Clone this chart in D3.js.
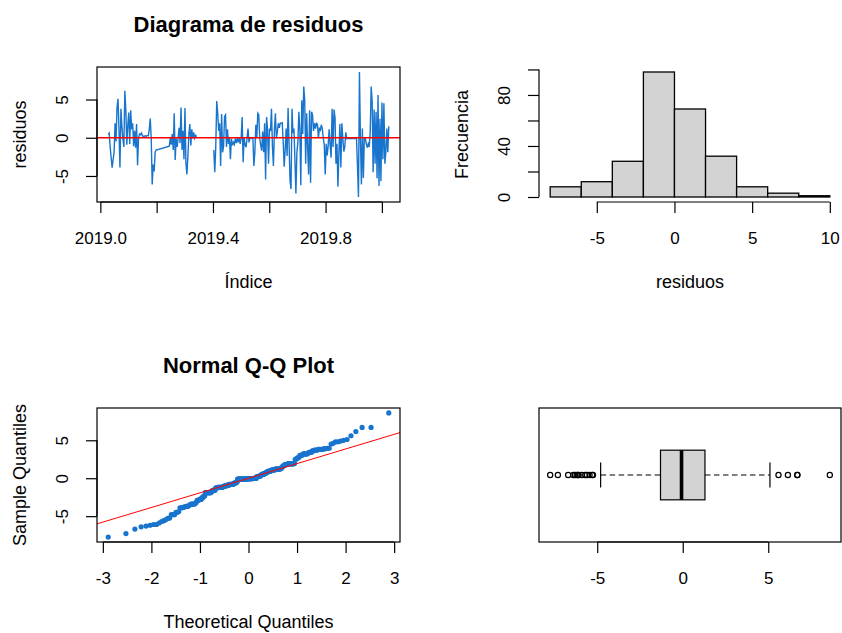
<!DOCTYPE html>
<html lang="es">
<head>
<meta charset="utf-8">
<script src="https://cdn.jsdelivr.net/npm/d3@7"></script>
<style>
  html, body { margin: 0; padding: 0; background: #ffffff; }
  svg { display: block; font-family: "Liberation Sans", Arial, sans-serif; }
</style>
</head>
<body>
<svg id="fig" width="842" height="633"></svg>
<script>
// ---- Residuos del modelo, por tramo (una observación cada 1/288 de año) ----
const tramoA = [
  0.4, 0.6, -1.25, -2.6, -3.9, -2.9, -1.9, 1.9, -0.5, 3.95,
  5.1, 1.2, -3.9, 3.8, 1.5, -0.12, -1.2, 6.15, 3.7, -0.9,
  1.6, 3.3, -0.8, 3.6, 1.1, 1.9, -1.1, 0.9, -1.3, 1.8,
  -3.6, -0.08, 0.5, 0.4, 0.6, 0.25, 0.2, 0.2, 0.25, 0.2,
  0.3, 0.25, 1.1, 2.5, -0.1, -6.1, -3.5, -4.4, -1.9, -1.6
];
const tramoB = [
  -1.1, -0.04, -0.9, 0.5, -1.6, 3.2, -2.9, -0.1, -1.2, -0.06,
  1.3, -0.7, 3.95, -1.6, 0.9, -2.8, 3.9, -3.3, -4.8, -2.4,
  0.5, 1.8, -1.0, 1.1, -0.09, 0.7, -0.05, 0.3, 0.15
];
const tramoC = [
  -1.6, -4.5, -1.2, 4.8, 3.2, 0.9, 1.9, -3.7, 3.1, -1.9,
  -1.1, 2.8, 3.0, -1.2, 1.1, -0.8, -0.03, -2.8, -0.1, -1.0,
  -0.6, -0.9, -0.12, -0.7, -0.05, -0.6, -0.04, -0.8, -0.03, 2.7,
  -3.2, -0.02, -0.9, -1.25, -0.08, 1.2, -0.6, -0.03, -0.1, -0.02,
  -0.11, -3.7, -1.9, 1.7, -0.05, 3.2, 3.0, -0.1, -1.0, -1.7,
  0.8, -1.9, 1.9, -5.45, 2.7, 1.0, -3.4, 1.2, 0.9, 3.8,
  -1.2, -3.7, 1.0, 3.2, -0.09, 0.8, 1.9, 1.3, 1.9, 1.9,
  1.95, -0.5, -3.8, -1.6, 1.2, -2.4, 3.9, -0.8, -5.6, -6.7,
  3.8, 0.6, 1.2, -2.9, -7.3, -1.9, -0.6, 3.4, 1.1, -6.2,
  4.9, 0.5, 6.7, 5.0, -3.4, 3.2, -1.2, -4.8, 3.6, -5.9,
  3.4, 3.0, 0.9, 1.9, 1.2, 1.9, 1.8, -0.04, 1.2, 1.0,
  1.7, 1.2, -0.07, -0.9, -4.8, -0.8, -2.3, -1.0, 1.1, -1.0,
  -2.6, 3.8, -1.2, 3.7, 2.6, -3.4, -0.8, -6.4, -1.9, 1.8,
  -3.9, 1.9, -0.08, -1.8, -1.2, 0.7, -0.12, -0.1, -0.11, -0.1,
  -0.09, -0.1, -0.08, -0.09, -0.07, -0.1, -0.06, -3.8, -7.75, 8.6,
  -0.03, -6.1, 1.2, -5.25, -0.1, -0.04, -0.8, -1.3, -0.8, -1.2,
  0.7, 6.7, 4.8, -4.5, 3.7, -3.4, 3.4, -5.3, 5.6, -6.3,
  2.5, -5.7, 4.6, -2.8, 4.5, -3.4, -1.9, 1.2, -1.9, 1.5
];
const inicioTramos = [2019.028, 2019.245, 2019.403];
const tramoUnido = [false, true, false];   // el tramo B continúa la línea del A
const obsPorAnio = 288;

// ---- Ejes ----
const ticksTiempo = [2019.0, 2019.2, 2019.4, 2019.6, 2019.8, 2020.0];
const etiquetasTiempo = [2019.0, 2019.4, 2019.8];
const ticksResiduos = [-5, 0, 5];
const cortesHist = [-8, -6, -4, -2, 0, 2, 4, 6, 8, 10];
const ticksHistX = [-5, 0, 5, 10];
const ticksFrecuencia = [0, 20, 40, 60, 80, 100];
const etiquetasFrecuencia = [0, 40, 80];
const ticksTeoricos = [-3, -2, -1, 0, 1, 2, 3];

// ---- Estilo y geometría ----
const AZUL = "#1874CD", ROJO = "#FF0000", GRIS = "#D3D3D3", NEGRO = "#000000";
const F_TITULO = 22, F_ETIQ = 18, F_TICK = 17;
const LARGO_TICK = 11;
const TRAZO = 1.2;
const paneles = {
  serie: { x0: 97, x1: 400, y0: 67, y1: 202 },
  hist:  { x0: 539, x1: 841, y0: 67, y1: 202 },
  qq:    { x0: 97, x1: 400, y0: 408, y1: 542 },
  caja:  { x0: 539, x1: 841, y0: 408, y1: 542 }
};

const svg = d3.select("#fig");
const extender = ([a, b]) => { const r = b - a; return [a - 0.04 * r, b + 0.04 * r]; };
const fmtNum = d => (d < 0 ? "-" : "") + Math.abs(d);

// ---- Datos derivados ----
const tramos = [tramoA, tramoB, tramoC];
const serie = [];
tramos.forEach((vals, k) => vals.forEach((v, i) =>
  serie.push({ t: inicioTramos[k] + i / obsPorAnio, v, k })));
const residuos = serie.map(d => d.v);
const ordenados = residuos.slice().sort(d3.ascending);
const n = ordenados.length;

// cuantil normal inverso (Acklam)
function qnorm(p) {
  const a = [-3.969683028665376e+01, 2.209460984245205e+02, -2.759285104469687e+02,
             1.383577518672690e+02, -3.066479806614716e+01, 2.506628277459239e+00];
  const b = [-5.447609879822406e+01, 1.615858368580409e+02, -1.556989798598866e+02,
             6.680131188771972e+01, -1.328068155288572e+01];
  const c = [-7.784894002430293e-03, -3.223964580411365e-01, -2.400758277161838e+00,
             -2.549732539343734e+00, 4.374664141464968e+00, 2.938163982698783e+00];
  const d = [7.784695709041462e-03, 3.224671290700398e-01, 2.445134137142996e+00,
             3.754408661907416e+00];
  const pl = 0.02425, ph = 1 - pl;
  let q, r;
  if (p < pl) {
    q = Math.sqrt(-2 * Math.log(p));
    return (((((c[0]*q+c[1])*q+c[2])*q+c[3])*q+c[4])*q+c[5]) / ((((d[0]*q+d[1])*q+d[2])*q+d[3])*q+1);
  }
  if (p > ph) {
    q = Math.sqrt(-2 * Math.log(1 - p));
    return -(((((c[0]*q+c[1])*q+c[2])*q+c[3])*q+c[4])*q+c[5]) / ((((d[0]*q+d[1])*q+d[2])*q+d[3])*q+1);
  }
  q = p - 0.5; r = q * q;
  return (((((a[0]*r+a[1])*r+a[2])*r+a[3])*r+a[4])*r+a[5])*q / (((((b[0]*r+b[1])*r+b[2])*r+b[3])*r+b[4])*r+1);
}

// ---- Utilidades de dibujo ----
function marco(p) {
  svg.append("rect").attr("x", p.x0).attr("y", p.y0)
    .attr("width", p.x1 - p.x0).attr("height", p.y1 - p.y0)
    .attr("fill", "none").attr("stroke", NEGRO).attr("stroke-width", TRAZO);
}

function ejeInferior(escala, y, ticks, etiquetas) {
  const g = svg.append("g").attr("transform", `translate(0,${y})`);
  g.call(d3.axisBottom(escala).tickValues(ticks).tickSize(LARGO_TICK).tickSizeOuter(0)
    .tickPadding(0).tickFormat(d => etiquetas.includes(d) ? (Number.isInteger(d) && Math.abs(d) < 1000 ? fmtNum(d) : d.toFixed(1)) : ""));
  g.select(".domain").remove();
  g.append("line").attr("x1", escala(ticks[0])).attr("x2", escala(ticks[ticks.length - 1]))
    .attr("stroke", NEGRO).attr("stroke-width", TRAZO);
  g.selectAll(".tick line").attr("stroke", NEGRO).attr("stroke-width", TRAZO);
  g.selectAll(".tick text").attr("fill", NEGRO).attr("font-size", F_TICK)
    .attr("font-family", "Liberation Sans, Arial, sans-serif")
    .attr("y", 36).attr("dy", "0.35em");
  return g;
}

function ejeIzquierdo(escala, x, ticks, etiquetas) {
  const g = svg.append("g").attr("transform", `translate(${x},0)`);
  g.call(d3.axisLeft(escala).tickValues(ticks).tickSize(LARGO_TICK).tickSizeOuter(0)
    .tickPadding(0).tickFormat(d => etiquetas.includes(d) ? fmtNum(d) : ""));
  g.select(".domain").remove();
  g.append("line").attr("y1", escala(ticks[0])).attr("y2", escala(ticks[ticks.length - 1]))
    .attr("stroke", NEGRO).attr("stroke-width", TRAZO);
  g.selectAll(".tick line").attr("stroke", NEGRO).attr("stroke-width", TRAZO);
  g.selectAll(".tick text").attr("fill", NEGRO).attr("font-size", F_TICK)
    .attr("font-family", "Liberation Sans, Arial, sans-serif")
    .attr("x", 0).attr("dy", 0).attr("text-anchor", "middle")
    .attr("transform", "translate(-35,0) rotate(-90) translate(0,6)");
  return g;
}

function titulo(p, texto) {
  svg.append("text").attr("x", (p.x0 + p.x1) / 2).attr("y", p.y0 - 35)
    .attr("text-anchor", "middle").attr("font-weight", "bold")
    .attr("font-size", F_TITULO).attr("fill", NEGRO).text(texto);
}
function etiquetaX(p, texto) {
  svg.append("text").attr("x", (p.x0 + p.x1) / 2).attr("y", p.y1 + 86)
    .attr("text-anchor", "middle").attr("font-size", F_ETIQ).attr("fill", NEGRO).text(texto);
}
function etiquetaY(p, texto) {
  const cx = p.x0 - 77, cy = (p.y0 + p.y1) / 2;
  svg.append("text").attr("transform", `translate(${cx},${cy}) rotate(-90)`)
    .attr("text-anchor", "middle").attr("dy", "0.35em")
    .attr("font-size", F_ETIQ).attr("fill", NEGRO).text(texto);
}
function recorte(id, p) {
  svg.append("clipPath").attr("id", id).append("rect")
    .attr("x", p.x0).attr("y", p.y0).attr("width", p.x1 - p.x0).attr("height", p.y1 - p.y0);
  return `url(#${id})`;
}

// ===== 1. Diagrama de residuos =====
{
  const p = paneles.serie;
  const x = d3.scaleLinear().domain(extender(d3.extent(serie, d => d.t))).range([p.x0, p.x1]);
  const y = d3.scaleLinear().domain(extender(d3.extent(residuos))).range([p.y1, p.y0]);
  const trazos = [];
  tramos.forEach((_, k) => {
    const pts = serie.filter(d => d.k === k);
    if (tramoUnido[k] && trazos.length) trazos[trazos.length - 1].push(...pts);
    else trazos.push(pts);
  });
  const linea = d3.line().x(d => x(d.t)).y(d => y(d.v));
  const clip = recorte("clip-serie", p);
  svg.append("g").attr("clip-path", clip).selectAll("path").data(trazos).join("path")
    .attr("d", linea).attr("fill", "none").attr("stroke", AZUL).attr("stroke-width", 1.4)
    .attr("stroke-linejoin", "miter");
  svg.append("line").attr("clip-path", clip)
    .attr("x1", p.x0).attr("x2", p.x1).attr("y1", y(0)).attr("y2", y(0))
    .attr("stroke", ROJO).attr("stroke-width", 1.3);
  marco(p);
  ejeInferior(x, p.y1, ticksTiempo, etiquetasTiempo);
  ejeIzquierdo(y, p.x0, ticksResiduos, ticksResiduos);
  titulo(p, "Diagrama de residuos");
  etiquetaX(p, "Índice");
  etiquetaY(p, "residuos");
}

// ===== 2. Histograma =====
{
  const p = paneles.hist;
  const bins = d3.bin().domain([cortesHist[0], cortesHist[cortesHist.length - 1]])
    .thresholds(cortesHist.slice(1, -1))(residuos);
  const x = d3.scaleLinear().domain(extender(d3.extent(cortesHist))).range([p.x0, p.x1]);
  const y = d3.scaleLinear().domain(extender([0, d3.max(bins, b => b.length)])).range([p.y1, p.y0]);
  svg.append("g").selectAll("rect").data(bins).join("rect")
    .attr("x", b => x(b.x0)).attr("width", b => x(b.x1) - x(b.x0))
    .attr("y", b => y(b.length)).attr("height", b => y(0) - y(b.length))
    .attr("fill", GRIS).attr("stroke", NEGRO).attr("stroke-width", 1.3);
  ejeInferior(x, p.y1, ticksHistX, ticksHistX);
  ejeIzquierdo(y, p.x0, ticksFrecuencia, etiquetasFrecuencia);
  etiquetaX(p, "residuos");
  etiquetaY(p, "Frecuencia");
}

// ===== 3. Normal Q-Q Plot =====
{
  const p = paneles.qq;
  const teoricos = ordenados.map((_, i) => qnorm((i + 1 - 0.5) / n));
  const x = d3.scaleLinear().domain(extender(d3.extent(teoricos))).range([p.x0, p.x1]);
  const y = d3.scaleLinear().domain(extender(d3.extent(ordenados))).range([p.y1, p.y0]);
  const q1 = d3.quantileSorted(ordenados, 0.25), q3 = d3.quantileSorted(ordenados, 0.75);
  const pend = (q3 - q1) / (qnorm(0.75) - qnorm(0.25));
  const orden = q1 - pend * qnorm(0.25);
  const clip = recorte("clip-qq", p);
  svg.append("g").attr("clip-path", clip).selectAll("circle").data(ordenados).join("circle")
    .attr("cx", (d, i) => x(teoricos[i])).attr("cy", d => y(d))
    .attr("r", 2.6).attr("fill", AZUL);
  const [xa, xb] = x.domain();
  svg.append("line").attr("clip-path", clip)
    .attr("x1", x(xa)).attr("y1", y(orden + pend * xa))
    .attr("x2", x(xb)).attr("y2", y(orden + pend * xb))
    .attr("stroke", ROJO).attr("stroke-width", 1);
  marco(p);
  ejeInferior(x, p.y1, ticksTeoricos, ticksTeoricos);
  ejeIzquierdo(y, p.x0, ticksResiduos, ticksResiduos);
  titulo(p, "Normal Q-Q Plot");
  etiquetaX(p, "Theoretical Quantiles");
  etiquetaY(p, "Sample Quantiles");
}

// ===== 4. Diagrama de caja =====
{
  const p = paneles.caja;
  // bisagras de Tukey
  const pos = [1, Math.floor((n + 3) / 2) / 2, (n + 1) / 2];
  pos.push(n + 1 - pos[1], n);
  const cinco = pos.map(d => 0.5 * (ordenados[Math.floor(d) - 1] + ordenados[Math.ceil(d) - 1]));
  const [, h1, med, h3] = cinco;
  const rango = h3 - h1;
  const atipicos = ordenados.filter(v => v < h1 - 1.5 * rango || v > h3 + 1.5 * rango);
  const dentro = ordenados.filter(v => v >= h1 - 1.5 * rango && v <= h3 + 1.5 * rango);
  const bigoteInf = d3.min(dentro), bigoteSup = d3.max(dentro);
  const x = d3.scaleLinear().domain(extender(d3.extent(ordenados))).range([p.x0, p.x1]);
  const y = d3.scaleLinear().domain(extender([0.5, 1.5])).range([p.y1, p.y0]);
  const anchoCaja = 0.4, anchoTope = 0.2;
  const g = svg.append("g");
  g.append("line").attr("x1", x(bigoteInf)).attr("x2", x(h1)).attr("y1", y(1)).attr("y2", y(1))
    .attr("stroke", NEGRO).attr("stroke-width", TRAZO).attr("stroke-dasharray", "5.5,3.5");
  g.append("line").attr("x1", x(h3)).attr("x2", x(bigoteSup)).attr("y1", y(1)).attr("y2", y(1))
    .attr("stroke", NEGRO).attr("stroke-width", TRAZO).attr("stroke-dasharray", "5.5,3.5");
  [bigoteInf, bigoteSup].forEach(v => g.append("line")
    .attr("x1", x(v)).attr("x2", x(v)).attr("y1", y(1 - anchoTope / 2)).attr("y2", y(1 + anchoTope / 2))
    .attr("stroke", NEGRO).attr("stroke-width", TRAZO));
  g.append("rect").attr("x", x(h1)).attr("width", x(h3) - x(h1))
    .attr("y", y(1 + anchoCaja / 2)).attr("height", y(1 - anchoCaja / 2) - y(1 + anchoCaja / 2))
    .attr("fill", GRIS).attr("stroke", NEGRO).attr("stroke-width", TRAZO);
  g.append("line").attr("x1", x(med)).attr("x2", x(med))
    .attr("y1", y(1 + anchoCaja / 2)).attr("y2", y(1 - anchoCaja / 2))
    .attr("stroke", NEGRO).attr("stroke-width", 3.6);
  g.selectAll("circle").data(atipicos).join("circle")
    .attr("cx", d => x(d)).attr("cy", y(1)).attr("r", 2.6)
    .attr("fill", "none").attr("stroke", NEGRO).attr("stroke-width", 1.2);
  marco(p);
  ejeInferior(x, p.y1, ticksResiduos, ticksResiduos);
}
</script>
</body>
</html>
